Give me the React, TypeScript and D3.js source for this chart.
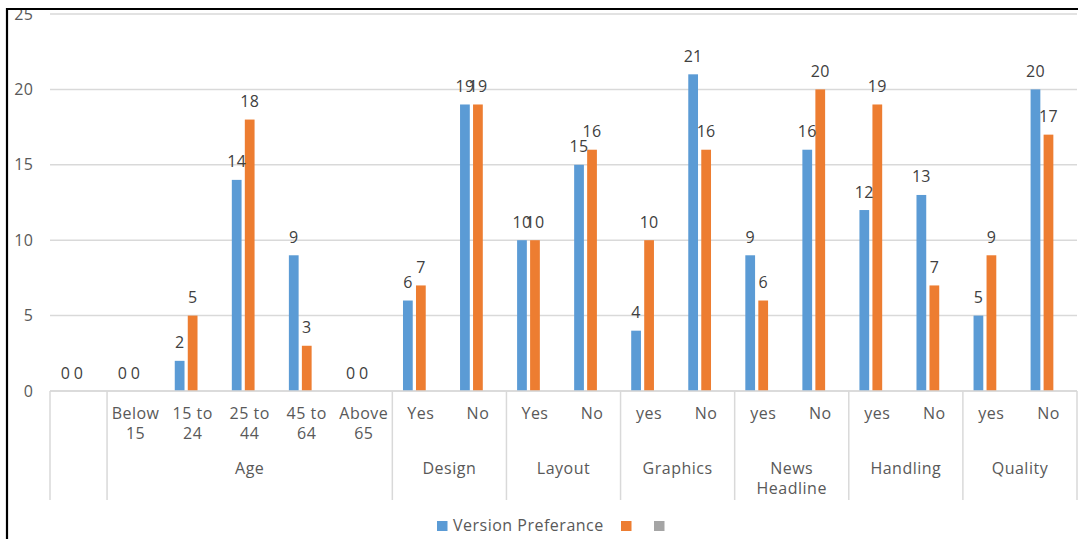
import React from "react";
import * as d3 from "d3";

// Category rows (inner level) and their outer groups
const categories = [
  "", "Below 15", "15 to 24", "25 to 44", "45 to 64", "Above 65",
  "Yes", "No", "Yes", "No", "yes", "No", "yes", "No", "yes", "No", "yes", "No",
];
const groupNames = ["", "Age", "Design", "Layout", "Graphics", "News Headline", "Handling", "Quality"];
const groupSizes = [1, 5, 2, 2, 2, 2, 2, 2];

// Series values
const versionPreferance = [0, 0, 2, 14, 9, 0, 6, 19, 10, 15, 4, 21, 9, 16, 12, 13, 5, 20];
const secondSeries = [0, 0, 5, 18, 3, 0, 7, 19, 10, 16, 10, 16, 6, 20, 19, 7, 9, 17];

const yTicks = [0, 5, 10, 15, 20, 25];
const seriesKeys = ["blue", "orange", "gray"];
const seriesColors: Record<string, string> = { blue: "#5b9bd5", orange: "#ed7d31", gray: "#a5a5a5" };

const W = 1078;
const H = 539;
const FONT = "'Open Sans', 'DejaVu Sans', sans-serif";

function splitLabel(s: string): string[] {
  const i = s.lastIndexOf(" ");
  return i > 0 ? [s.slice(0, i), s.slice(i + 1)] : [s];
}

export default function App() {
  const plotLeft = 50;
  const plotRight = 1077;
  const y = d3.scaleLinear().domain([0, 25]).range([391, 14]);
  const x0 = d3
    .scaleBand<number>()
    .domain(categories.map((_, i) => i))
    .range([plotLeft, plotRight])
    .padding(0);
  const bw = x0.bandwidth();
  const clusterW = 39;
  const x1 = d3
    .scaleBand<string>()
    .domain(seriesKeys)
    .range([(bw - clusterW) / 2, (bw + clusterW) / 2])
    .paddingInner(0.25)
    .paddingOuter(0.125);
  const barW = x1.bandwidth();

  const values: Record<string, number[]> = { blue: versionPreferance, orange: secondSeries };

  // group boundaries
  const starts: number[] = [];
  let acc = 0;
  groupSizes.forEach((n) => {
    starts.push(acc);
    acc += n;
  });
  const boundaries = [...starts, acc].map((k) => plotLeft + k * bw);

  const axisY = y(0);
  const textColor = "#595959";

  return (
    <svg
      width={W}
      height={H}
      style={{ position: "absolute", left: 0, top: 0, background: "#fff" }}
      fontFamily={FONT}
    >
      <rect x={0} y={0} width={W} height={H} fill="#fff" />
      {/* gridlines */}
      {yTicks.map((t) => (
        <line key={t} x1={plotLeft} x2={plotRight} y1={y(t)} y2={y(t)} stroke="#d9d9d9" strokeWidth={1.5} />
      ))}
      {/* y tick labels */}
      {yTicks.map((t) => (
        <text key={t} x={33.5} y={y(t) + 5.5} textAnchor="end" fontSize={16} fill={textColor} letterSpacing={0.5}>
          {t}
        </text>
      ))}
      {/* bars */}
      {(["blue", "orange"] as const).map((k) =>
        values[k].map((v, i) => {
          const bx = (x0(i) as number) + (x1(k) as number);
          return (
            <rect key={k + i} x={bx} y={y(v)} width={barW} height={axisY - y(v)} fill={seriesColors[k]} />
          );
        })
      )}
      {/* data labels */}
      {(["blue", "orange"] as const).map((k) =>
        values[k].map((v, i) => {
          const cx = (x0(i) as number) + (x1(k) as number) + barW / 2;
          return (
            <text key={"l" + k + i} x={cx} y={y(v) - 12.5} textAnchor="middle" fontSize={16} fill="#404040" letterSpacing={0.3}>
              {v}
            </text>
          );
        })
      )}
      {/* category axis */}
      <line x1={plotLeft} x2={plotRight} y1={axisY} y2={axisY} stroke="#d9d9d9" strokeWidth={1.5} />
      {boundaries.map((bx, i) => (
        <line key={"b" + i} x1={bx} x2={bx} y1={axisY} y2={500} stroke="#d9d9d9" strokeWidth={1.5} />
      ))}
      {categories.map((c, i) => {
        const cx = (x0(i) as number) + bw / 2;
        return splitLabel(c).map((ln, j) => (
          <text key={"c" + i + j} x={cx} y={419 + j * 20} textAnchor="middle" fontSize={16} fill={textColor} letterSpacing={0.5}>
            {ln}
          </text>
        ));
      })}
      {groupNames.map((g, gi) => {
        const cx = (boundaries[gi] + boundaries[gi + 1]) / 2;
        return splitLabel(g).map((ln, j) => (
          <text key={"g" + gi + j} x={cx} y={473.5 + j * 20} textAnchor="middle" fontSize={16} fill={textColor} letterSpacing={0.5}>
            {ln}
          </text>
        ));
      })}
      {/* legend */}
      <rect x={437} y={521} width={10.5} height={10} fill={seriesColors.blue} />
      <text x={453} y={531} fontSize={16} fill={textColor} letterSpacing={0.5}>
        Version Preferance
      </text>
      <rect x={621} y={521} width={10.5} height={10} fill={seriesColors.orange} />
      <rect x={654} y={521} width={10.5} height={10} fill={seriesColors.gray} />
      {/* frame */}
      <path d={`M7,${H} V9 H${W}`} fill="none" stroke="#000" strokeWidth={2.2} />
    </svg>
  );
}
